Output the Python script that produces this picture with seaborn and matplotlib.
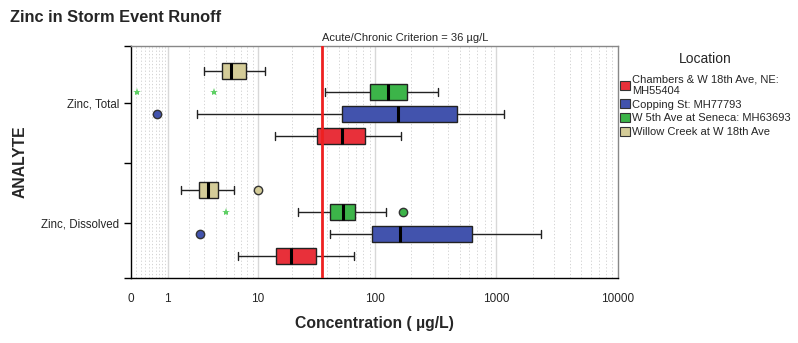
import numpy as np
import pandas as pd
import seaborn as sns
import matplotlib.pyplot as plt
from matplotlib.patches import Patch

# ---- data (µg/L) ----
analytes = ["Zinc, Total", "Zinc, Dissolved"]
loc_chambers = "Chambers & W 18th Ave, NE:\nMH55404"
loc_copping = "Copping St: MH77793"
loc_w5th = "W 5th Ave at Seneca: MH63693"
loc_willow = "Willow Creek at W 18th Ave"
legend_order = [loc_chambers, loc_copping, loc_w5th, loc_willow]
plot_order = [loc_willow, loc_w5th, loc_copping, loc_chambers]  # top to bottom

# five-number summaries: whisker low, Q1, median, Q3, whisker high
total_chambers = [14.1, 32.9, 53.4, 82.6, 163]
total_copping = [2.5, 53.1, 156, 471, 1150]
total_w5th = [38.5, 91.4, 127, 183, 333]
total_willow = [3.0, 4.6, 5.6, 7.8, 11.5]
diss_chambers = [6.5, 14.6, 19.5, 32.1, 67.3]
diss_copping = [42.4, 94.5, 162, 626, 2350]
diss_w5th = [22.7, 42.4, 54.5, 67.8, 124]
diss_willow = [1.58, 2.59, 3.33, 4.15, 6.08]

# outliers: analyte, location, value, kind ('o' outlier, '*' extreme)
out_analyte = ["Zinc, Total", "Zinc, Total", "Zinc, Total",
               "Zinc, Dissolved", "Zinc, Dissolved", "Zinc, Dissolved", "Zinc, Dissolved"]
out_location = [loc_w5th, loc_w5th, loc_copping,
                loc_willow, loc_w5th, loc_w5th, loc_copping]
out_value = [0.13, 3.8, 0.63, 10.0, 5.05, 170, 2.72]
out_kind = ["*", "*", "o", "o", "*", "o", "o"]

criterion = 36

colors = {
    loc_chambers: "#e8303a",
    loc_copping: "#4253ad",
    loc_w5th: "#3cb449",
    loc_willow: "#d4cc98",
}

summaries = {
    ("Zinc, Total", loc_chambers): total_chambers,
    ("Zinc, Total", loc_copping): total_copping,
    ("Zinc, Total", loc_w5th): total_w5th,
    ("Zinc, Total", loc_willow): total_willow,
    ("Zinc, Dissolved", loc_chambers): diss_chambers,
    ("Zinc, Dissolved", loc_copping): diss_copping,
    ("Zinc, Dissolved", loc_w5th): diss_w5th,
    ("Zinc, Dissolved", loc_willow): diss_willow,
}
rows = []
for (an, loc), vals in summaries.items():
    for v in vals:
        rows.append({"analyte": an, "location": loc, "conc": v})
df = pd.DataFrame(rows)

sns.set_style("white")
plt.rcParams["font.family"] = ["Liberation Sans", "DejaVu Sans"]

fig = plt.figure(figsize=(7.98, 3.43), dpi=100)
ax = fig.add_axes([131 / 798, 1 - 278 / 343, (618 - 131) / 798, (278 - 46) / 343])

# log10(x + 1) axis, as in the original
ax.set_xscale("function", functions=(lambda x: np.log10(np.clip(x, 0, None) + 1),
                                     lambda u: 10 ** u - 1))

box_width = 0.733
sns.boxplot(data=df, x="conc", y="analyte", hue="location", order=analytes,
            hue_order=plot_order, palette=colors, saturation=1, whis=(0, 100),
            showfliers=False, width=box_width, gap=0.27, linecolor="#222222", linewidth=1,
            medianprops=dict(color="black", linewidth=2.2),
            legend=False, ax=ax, zorder=3)

# outliers at the dodged positions
slot = box_width / len(plot_order)
for an, loc, v, k in zip(out_analyte, out_location, out_value, out_kind):
    y = analytes.index(an) + (plot_order.index(loc) - 1.5) * slot
    if k == "o":
        ax.plot(v, y, "o", ms=6, mfc=colors[loc], mec="#333333", mew=1, zorder=4)
    else:
        ax.plot(v, y, "*", ms=6, color="#5fd065", mew=0, zorder=4)

ax.axvline(criterion, color="#ee2020", lw=2, zorder=5)
ax.text(criterion, 1.015, "Acute/Chronic Criterion = 36 µg/L", transform=ax.get_xaxis_transform(),
        ha="left", va="bottom", fontsize=8)

ax.set_xlim(0, 10000)
ax.set_ylim(1.46, -0.48)
major = [0, 1, 10, 100, 1000, 10000]
minor = ([i / 10 for i in range(1, 10)] + list(range(2, 10)) + list(range(20, 100, 10))
         + list(range(200, 1000, 100)) + list(range(2000, 10000, 1000)))
ax.set_xticks(major)
ax.set_xticklabels([str(m) for m in major], fontsize=8.5)
ax.set_xticks(minor, minor=True)
ax.set_yticks([0, 1])
ax.set_yticklabels(analytes, fontsize=8.3)
ax.set_yticks([-0.48, 0.5, 1.46], minor=True)

ax.grid(False)
for m in [1, 10, 100, 1000]:
    ax.axvline(m, color="#d8d8d8", lw=1, zorder=0)
for m in minor:
    ax.axvline(m, color="#cccccc", lw=0.6, ls=(0, (1.5, 2.5)), zorder=0)

ax.tick_params(axis="x", which="major", direction="out", length=5, width=1, color="black", pad=6)
ax.tick_params(axis="x", which="minor", direction="out", length=3, width=0.8, color="black")
ax.tick_params(axis="y", which="both", direction="out", length=5, width=1, color="black", left=True)
for s in ["left", "bottom"]:
    ax.spines[s].set_color("black")
    ax.spines[s].set_linewidth(1)
for s in ["top", "right"]:
    ax.spines[s].set_color("#888888")
    ax.spines[s].set_linewidth(1)

ax.set_xlabel("Concentration ( µg/L)", fontsize=11.3, fontweight="bold", labelpad=8)
ax.set_ylabel("ANALYTE", fontsize=11.3, fontweight="bold", labelpad=10)

fig.text(10 / 798, 1 - 17 / 343, "Zinc in Storm Event Runoff", fontsize=11.8,
         fontweight="bold", va="center", ha="left")

handles = [Patch(facecolor=colors[l], edgecolor="#333333", lw=0.8) for l in legend_order]
leg = fig.legend(handles, legend_order, title="Location", loc="upper left",
                 bbox_to_anchor=(620 / 798, 1 - 52 / 343), frameon=False, fontsize=8,
                 title_fontsize=10, handlelength=0.9, handleheight=0.9, handletextpad=0.2,
                 labelspacing=0.3, borderaxespad=0, borderpad=0)
leg._legend_box.align = "center"
leg._legend_box.sep = 6

fig.savefig("out.png", dpi=100)
